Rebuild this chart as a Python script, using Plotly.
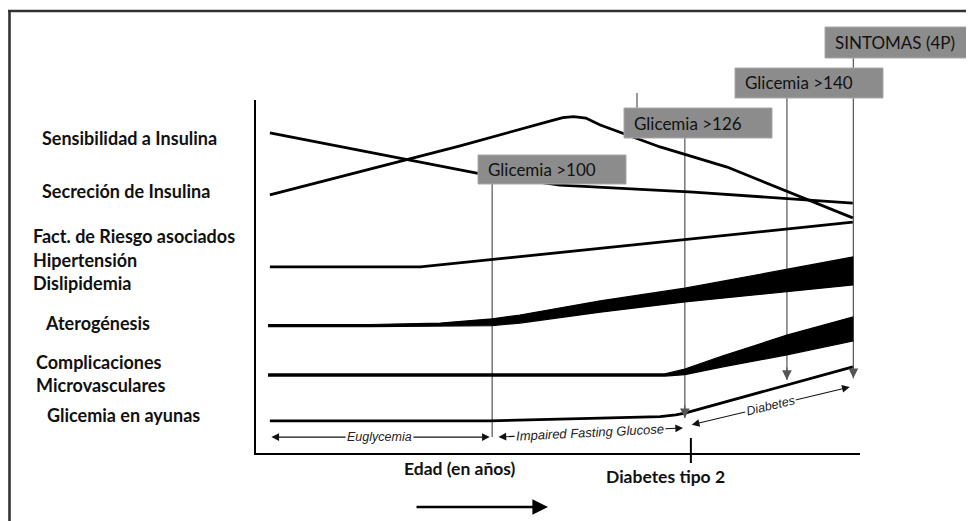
import plotly.graph_objects as go

# ---------------- data (x: age, arbitrary units 0-100; y: level, arbitrary units 0-100) ----------------
sens_x = [2.3, 37.4, 45.4, 50.3, 72.4, 98.8]
sens_y = [90.7, 79.0, 77.1, 75.9, 73.9, 70.8]

secr_x = [2.3, 33.8, 48.8, 50.8, 52.6, 54.6, 57.0, 66.9, 78.0, 98.8]
secr_y = [73.1, 87.0, 94.1, 95.0, 95.3, 94.9, 92.9, 86.7, 81.0, 66.6]

riesgo_x = [2.3, 27.2, 98.8]
riesgo_y = [52.7, 52.7, 65.4]

atero_x = [2.0, 18.9, 30.5, 39.1, 43.7, 57.0, 71.0, 98.8]
atero_top = [36.4, 36.4, 36.8, 38.0, 39.1, 43.1, 46.7, 55.5]
atero_bot = [35.8, 35.8, 35.9, 36.1, 36.8, 39.9, 42.8, 47.6]

micro_x = [2.0, 67.7, 71.0, 77.3, 87.9, 98.8]
micro_top = [22.4, 22.4, 23.8, 27.5, 33.4, 38.5]
micro_bot = [21.8, 21.8, 22.2, 24.4, 27.8, 31.7]

gluc_x = [2.3, 38.7, 57.0, 66.9, 69.5, 71.0, 98.8]
gluc_y = [9.1, 9.1, 9.9, 10.3, 10.8, 11.3, 24.4]

row_labels = ["Sensibilidad a Insulina", "Secreción de Insulina",
              "Fact. de Riesgo asociados", "Hipertensión", "Dislipidemia",
              "Aterogénesis", "Complicaciones", "Microvasculares", "Glicemia en ayunas"]

event_labels = ["Glicemia >100", "Glicemia >126", "Glicemia >140", "SINTOMAS (4P)"]
event_x = [39.1, 71.0, 87.9, 98.9]
event_tip_y = [4.5, 9.9, 20.7, 21.2]

phase_labels = ["Euglycemia", "Impaired Fasting Glucose", "Diabetes"]
phase_x0 = [2.3, 39.9, 71.9]
phase_x1 = [38.7, 70.7, 98.3]
phase_y0 = [4.5, 4.5, 7.9]
phase_y1 = [4.5, 7.1, 18.7]

axis_title = "Edad (en años)"
diag_label = "Diabetes tipo 2"
diag_x = 72.0

# ---------------- layout geometry ----------------
# the page body adds an 8px margin, so the figure is laid out 8px smaller
OFF = 8
PAGE_W, PAGE_H = 974, 521
W, H = PAGE_W - OFF, PAGE_H - OFF
PLOT_L, PLOT_R, PLOT_T, PLOT_B = 256, 860, 100, 453   # page pixel edges of the plot box
L, T = PLOT_L - OFF, PLOT_T - OFF
R, B = W - (PLOT_R - OFF), H - (PLOT_B - OFF)
PW, PH = W - L - R, H - T - B


def xp(px):
    """page pixel x -> paper x"""
    return (px - OFF - L) / PW


def yp(py):
    """page pixel y -> paper y"""
    return (H - B - (py - OFF)) / PH


LINE = "#000000"
GREY = "#555555"

fig = go.Figure()

# simple curves
for xs, ys in [(sens_x, sens_y), (secr_x, secr_y), (riesgo_x, riesgo_y), (gluc_x, gluc_y)]:
    fig.add_trace(go.Scatter(x=xs, y=ys, mode="lines",
                             line=dict(color=LINE, width=2.8), hoverinfo="skip"))

# widening bands
for xs, top, bot in [(atero_x, atero_top, atero_bot), (micro_x, micro_top, micro_bot)]:
    fig.add_trace(go.Scatter(x=xs + xs[::-1], y=top + bot[::-1], mode="lines",
                             fill="toself", fillcolor=LINE,
                             line=dict(color=LINE, width=1.2), hoverinfo="skip"))

shapes = []
annotations = []

# outer frame (top and left)
shapes.append(dict(type="line", xref="paper", yref="paper", x0=xp(5), x1=xp(980), y0=yp(11), y1=yp(11),
                   line=dict(color="#333333", width=2.6), layer="above"))
shapes.append(dict(type="line", xref="paper", yref="paper", x0=xp(9.5), x1=xp(9.5), y0=yp(10), y1=yp(530),
                   line=dict(color="#333333", width=2.6), layer="above"))

# event boxes (page pixel layout)
box_left = [478, 624, 735, 825]
box_top = [155, 108, 68, 27]
box_w = [148, 148, 148, 145]
box_h = [29, 30, 30, 31]

for i, ex in enumerate(event_x):
    bottom_paper = yp(box_top[i] + box_h[i])
    shapes.append(dict(type="line", xref="x", yref="paper", x0=ex, x1=ex,
                       y0=event_tip_y[i] / 100.0, y1=bottom_paper,
                       line=dict(color=GREY, width=1.2), layer="below"))
    if i > 0:
        annotations.append(dict(x=ex, y=event_tip_y[i], xref="x", yref="y", ax=0, ay=-14,
                                axref="pixel", ayref="pixel", text="", showarrow=True,
                                arrowhead=2, arrowsize=1.6, arrowwidth=1.2, arrowcolor=GREY,
                                standoff=0, startstandoff=0))

# stub above the >126 box
shapes.append(dict(type="line", xref="paper", yref="paper", x0=xp(637), x1=xp(637), y0=yp(93), y1=yp(108),
                   line=dict(color=GREY, width=1.2), layer="above"))

for i, lab in enumerate(event_labels):
    shapes.append(dict(type="rect", xref="paper", yref="paper",
                       x0=xp(box_left[i]), x1=xp(box_left[i] + box_w[i]),
                       y0=yp(box_top[i]), y1=yp(box_top[i] + box_h[i]),
                       fillcolor="#8c8c8c", line=dict(color="#a8a8a8", width=1), layer="above"))
    annotations.append(dict(x=xp(box_left[i] + 8), y=yp(box_top[i] + box_h[i] / 2),
                            xref="paper", yref="paper", xanchor="left", yanchor="middle",
                            text=lab, showarrow=False,
                            font=dict(family="Lato", size=17, color="#111111")))

# row labels
row_px = [(40, 138), (40, 191), (31, 236), (31, 260), (31, 283), (43, 323), (34, 362), (34, 385), (45, 415)]
for lab, (px, py) in zip(row_labels, row_px):
    annotations.append(dict(x=xp(px), y=yp(py), xref="paper", yref="paper", xanchor="left",
                            yanchor="middle", text=lab, showarrow=False,
                            font=dict(family="Lato", size=18, color="#111111", weight="bold")))

# phase arrows and labels
phase_angle = [0, -2.8, -13.4]
phase_size = [12.5, 13, 12.5]
for i, lab in enumerate(phase_labels):
    annotations.append(dict(x=phase_x1[i], y=phase_y1[i], ax=phase_x0[i], ay=phase_y0[i],
                            xref="x", yref="y", axref="x", ayref="y", text="", showarrow=True,
                            arrowhead=2, arrowside="end+start", arrowsize=1.4, arrowwidth=1.1,
                            arrowcolor="#111111", standoff=0, startstandoff=0))
    annotations.append(dict(x=(phase_x0[i] + phase_x1[i]) / 2, y=(phase_y0[i] + phase_y1[i]) / 2,
                            xref="x", yref="y", xanchor="center", yanchor="middle",
                            text=lab, showarrow=False, textangle=phase_angle[i],
                            bgcolor="white", borderpad=1,
                            font=dict(family="Liberation Sans", size=phase_size[i], color="#222222",
                                      style="italic")))

# diagnosis tick and label
shapes.append(dict(type="line", xref="x", yref="paper", x0=diag_x, x1=diag_x, y0=yp(438), y1=yp(463),
                   line=dict(color=LINE, width=2), layer="above"))
annotations.append(dict(x=xp(665), y=yp(476), xref="paper", yref="paper", xanchor="center",
                        yanchor="middle", text=diag_label, showarrow=False,
                        font=dict(family="Lato", size=17.5, color="#111111", weight="bold")))

# age axis title and arrow
annotations.append(dict(x=xp(460), y=yp(469), xref="paper", yref="paper", xanchor="center",
                        yanchor="middle", text=axis_title, showarrow=False,
                        font=dict(family="Lato", size=17.5, color="#111111", weight="bold")))
annotations.append(dict(x=xp(548), y=yp(507), xref="paper", yref="paper", ax=-133, ay=0,
                        axref="pixel", ayref="pixel", text="", showarrow=True, arrowhead=2,
                        arrowsize=1.2, arrowwidth=2.6, arrowcolor=LINE, standoff=0, startstandoff=0))

fig.update_layout(
    width=W, height=H,
    margin=dict(l=L, r=R, t=T, b=B, pad=0),
    paper_bgcolor="white", plot_bgcolor="white",
    showlegend=False,
    xaxis=dict(range=[0, 100], showline=True, linecolor=LINE, linewidth=1.6, showgrid=False,
               zeroline=False, showticklabels=False, ticks="", fixedrange=True),
    yaxis=dict(range=[0, 100], showline=True, linecolor=LINE, linewidth=1.6, showgrid=False,
               zeroline=False, showticklabels=False, ticks="", fixedrange=True),
    shapes=shapes,
    annotations=annotations,
)

fig.write_html("out.html")
